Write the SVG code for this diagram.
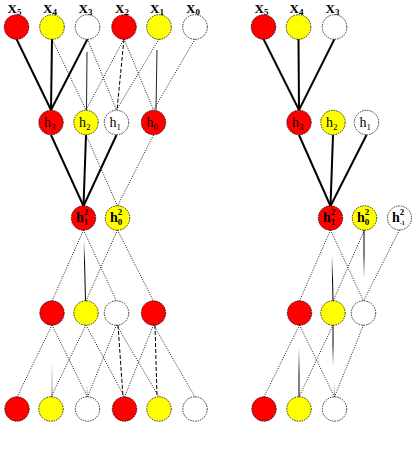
<svg xmlns="http://www.w3.org/2000/svg" width="412" height="456" viewBox="0 0 412 456">
<style>
  .n { stroke:#000; stroke-width:0.8; stroke-dasharray:1.5 1; }
  .r { fill:#ff0000; }
  .y { fill:#ffff00; }
  .w { fill:#ffffff; }
  .thick { stroke:#000; stroke-width:2; fill:none; }
  .dot { stroke:#000; stroke-width:0.9; stroke-dasharray:1 1.4; fill:none; }
  .dash { stroke:#000; stroke-width:1; stroke-dasharray:4 2; fill:none; }
  .thin { stroke:#222; stroke-width:1; fill:none; }
  .lx { font-family:"Liberation Serif","Times New Roman",serif; font-weight:bold; font-size:13px; fill:#000; }
  .lh { font-family:"Liberation Serif","Times New Roman",serif; font-size:14px; fill:#000; }
  .lh2 { font-family:"Liberation Serif","Times New Roman",serif; font-weight:bold; font-size:14px; fill:#000; }
  .sub { font-size:9px; }
</style>
<defs>
  <linearGradient id="g5" gradientUnits="userSpaceOnUse" x1="84" y1="240" x2="86" y2="262">
    <stop offset="0" stop-color="#fff"/><stop offset="1" stop-color="#000"/>
  </linearGradient>
  <linearGradient id="g6" gradientUnits="userSpaceOnUse" x1="52" y1="362" x2="52" y2="397">
    <stop offset="0" stop-color="#fff"/><stop offset="1" stop-color="#777"/>
  </linearGradient>
  <linearGradient id="g7" gradientUnits="userSpaceOnUse" x1="87" y1="384" x2="87" y2="397">
    <stop offset="0" stop-color="#fff"/><stop offset="1" stop-color="#888"/>
  </linearGradient>
  <linearGradient id="g10" gradientUnits="userSpaceOnUse" x1="332" y1="255" x2="332" y2="280">
    <stop offset="0" stop-color="#fff"/><stop offset="1" stop-color="#000"/>
  </linearGradient>
  <linearGradient id="g11" gradientUnits="userSpaceOnUse" x1="364" y1="255" x2="364" y2="278">
    <stop offset="0" stop-color="#000"/><stop offset="1" stop-color="#fff"/>
  </linearGradient>
  <linearGradient id="g12" gradientUnits="userSpaceOnUse" x1="299" y1="348" x2="299" y2="375">
    <stop offset="0" stop-color="#fff"/><stop offset="1" stop-color="#000"/>
  </linearGradient>
  <linearGradient id="g13" gradientUnits="userSpaceOnUse" x1="333" y1="345" x2="333" y2="366">
    <stop offset="0" stop-color="#000"/><stop offset="1" stop-color="#fff"/>
  </linearGradient>
  <linearGradient id="g14" gradientUnits="userSpaceOnUse" x1="334" y1="382" x2="334" y2="397">
    <stop offset="0" stop-color="#fff"/><stop offset="1" stop-color="#888"/>
  </linearGradient>
</defs>

<g id="connectors">
  <!-- left: inputs to hidden -->
  <line class="thick" x1="16.5" y1="39" x2="51" y2="110"/>
  <line class="thick" x1="52" y1="39" x2="51" y2="110"/>
  <line class="thick" x1="87.5" y1="39" x2="51" y2="110"/>
  <line class="dot" x1="52" y1="39" x2="86" y2="110"/>
  <line class="thin" x1="87" y1="52" x2="86.5" y2="110" stroke="#555"/>
  <line class="dot" x1="124" y1="39" x2="86" y2="110"/>
  <line class="dot" x1="87.5" y1="39" x2="116.5" y2="110"/>
  <line class="dash" x1="124" y1="39" x2="117" y2="110"/>
  <line class="dot" x1="159" y1="39" x2="116.5" y2="110"/>
  <line class="dot" x1="124" y1="39" x2="153.5" y2="110"/>
  <line class="thin" x1="157" y1="50" x2="156" y2="110"/>
  <line class="dot" x1="195" y1="39" x2="153.5" y2="110"/>
  <!-- left: hidden to layer 2 -->
  <line class="thick" x1="51" y1="135" x2="83.5" y2="206"/>
  <line class="thick" x1="86" y1="135" x2="83.5" y2="206"/>
  <line class="thick" x1="116.5" y1="135" x2="83.5" y2="206"/>
  <line class="dot" x1="86" y1="135" x2="117.5" y2="206"/>
  <line class="dot" x1="153.5" y1="135" x2="117.5" y2="206"/>
  <!-- left: layer 2 to layer 4 -->
  <line class="dot" x1="83.5" y1="230" x2="52" y2="301"/>
  <line x1="84" y1="240" x2="85.5" y2="301" stroke="url(#g5)" stroke-width="1"/>
  <line class="dot" x1="83.5" y1="230" x2="116.5" y2="301"/>
  <line class="dot" x1="117.5" y1="230" x2="86" y2="301"/>
  <line class="dot" x1="117.5" y1="230" x2="153.5" y2="301"/>
  <!-- left: layer 4 to outputs -->
  <line class="dot" x1="52" y1="325" x2="17" y2="397"/>
  <line x1="52" y1="362" x2="52" y2="397" stroke="url(#g6)" stroke-width="1"/>
  <line class="dot" x1="52" y1="325" x2="87.5" y2="397"/>
  <line class="dot" x1="86" y1="325" x2="51" y2="397"/>
  <line x1="87" y1="384" x2="87.3" y2="397" stroke="url(#g7)" stroke-width="1"/>
  <line class="dot" x1="86" y1="325" x2="124.5" y2="397"/>
  <line class="dot" x1="116.5" y1="325" x2="87.5" y2="397"/>
  <line class="dash" x1="118" y1="325" x2="123" y2="397"/>
  <line class="dot" x1="116.5" y1="325" x2="159" y2="397"/>
  <line class="dot" x1="153.5" y1="325" x2="124.5" y2="397"/>
  <line class="dash" x1="155" y1="325" x2="157" y2="397"/>
  <line class="dot" x1="153.5" y1="325" x2="195" y2="397"/>

  <!-- right: inputs to hidden -->
  <line class="thick" x1="263.5" y1="39" x2="299" y2="110"/>
  <line class="thick" x1="298.5" y1="39" x2="299" y2="110"/>
  <line class="thick" x1="334.5" y1="39" x2="299" y2="110"/>
  <!-- right: hidden to layer 2 -->
  <line class="thick" x1="299" y1="135" x2="330.5" y2="206"/>
  <line class="thick" x1="333" y1="135" x2="330.5" y2="206"/>
  <line class="thick" x1="366.5" y1="135" x2="330.5" y2="206"/>
  <!-- right: layer 2 to layer 4 -->
  <line class="dot" x1="330.5" y1="230" x2="299.5" y2="301"/>
  <line x1="332" y1="255" x2="333" y2="301" stroke="url(#g10)" stroke-width="1"/>
  <line class="dot" x1="330.5" y1="230" x2="363.5" y2="301"/>
  <line class="dot" x1="364.5" y1="230" x2="333" y2="301"/>
  <line x1="364" y1="230" x2="364" y2="278" stroke="url(#g11)" stroke-width="1"/>
  <line class="dot" x1="399.5" y1="230" x2="363.5" y2="301"/>
  <!-- right: layer 4 to outputs -->
  <line class="dot" x1="299.5" y1="325" x2="264" y2="397"/>
  <line x1="299" y1="348" x2="299" y2="397" stroke="url(#g12)" stroke-width="1"/>
  <line class="dot" x1="299.5" y1="325" x2="334.5" y2="397"/>
  <line class="dot" x1="333" y1="325" x2="299" y2="397"/>
  <line x1="333" y1="325" x2="333" y2="366" stroke="url(#g13)" stroke-width="1"/>
  <line x1="334" y1="382" x2="334.5" y2="397" stroke="url(#g14)" stroke-width="1"/>
  <line class="dot" x1="363.5" y1="325" x2="334.5" y2="397"/>
</g>

<!-- Left panel: input row -->
<g id="L-x5"><circle class="n r" cx="16.5" cy="27" r="12.3"/><text class="lx" x="7.5" y="12.5">X<tspan class="sub" dy="2.5">5</tspan></text></g>
<g id="L-x4"><circle class="n y" cx="52" cy="27" r="12.3"/><text class="lx" x="43" y="12.5">X<tspan class="sub" dy="2.5">4</tspan></text></g>
<g id="L-x3"><circle class="n w" cx="87.5" cy="27" r="12.3"/><text class="lx" x="78.5" y="12.5">X<tspan class="sub" dy="2.5">3</tspan></text></g>
<g id="L-x2"><circle class="n r" cx="124" cy="27" r="12.3"/><text class="lx" x="115" y="12.5">X<tspan class="sub" dy="2.5">2</tspan></text></g>
<g id="L-x1"><circle class="n y" cx="159" cy="27" r="12.3"/><text class="lx" x="150" y="12.5">X<tspan class="sub" dy="2.5">1</tspan></text></g>
<g id="L-x0"><circle class="n w" cx="195" cy="27" r="12.3"/><text class="lx" x="186" y="12.5">X<tspan class="sub" dy="2.5">0</tspan></text></g>

<!-- Left panel: hidden layer 1 -->
<g id="L-h3"><circle class="n r" cx="51" cy="122.5" r="12.2"/><text class="lh" x="44" y="127">h<tspan class="sub" dy="3">3</tspan></text></g>
<g id="L-h2"><circle class="n y" cx="86" cy="122.5" r="12.2"/><text class="lh" x="79" y="127">h<tspan class="sub" dy="3">2</tspan></text></g>
<g id="L-h1"><circle class="n w" cx="116.5" cy="122.5" r="12.2"/><text class="lh" x="109.5" y="127">h<tspan class="sub" dy="3">1</tspan></text></g>
<g id="L-h0"><circle class="n r" cx="153.5" cy="122.5" r="12.2"/><text class="lh" x="146.5" y="127">h<tspan class="sub" dy="3">0</tspan></text></g>

<!-- Left panel: layer 2 -->
<g id="L-h2_1"><circle class="n r" cx="83.5" cy="218" r="12.2"/><text class="lh2" x="76" y="222">h<tspan class="sub" dy="-7">2</tspan><tspan class="sub" dx="-4.5" dy="9.5">1</tspan></text></g>
<g id="L-h2_0"><circle class="n y" cx="117.5" cy="218" r="12.2"/><text class="lh2" x="110" y="222">h<tspan class="sub" dy="-7">2</tspan><tspan class="sub" dx="-4.5" dy="9.5">0</tspan></text></g>

<!-- Left panel: layer 4 -->
<g id="L-d3"><circle class="n r" cx="52" cy="313" r="12.2"/></g>
<g id="L-d2"><circle class="n y" cx="86" cy="313" r="12.2"/></g>
<g id="L-d1"><circle class="n w" cx="116.5" cy="313" r="12.2"/></g>
<g id="L-d0"><circle class="n r" cx="153.5" cy="313" r="12.2"/></g>

<!-- Left panel: output row -->
<g id="L-o5"><circle class="n r" cx="17" cy="409" r="12.2"/></g>
<g id="L-o4"><circle class="n y" cx="51" cy="409" r="12.2"/></g>
<g id="L-o3"><circle class="n w" cx="87.5" cy="409" r="12.2"/></g>
<g id="L-o2"><circle class="n r" cx="124.5" cy="409" r="12.2"/></g>
<g id="L-o1"><circle class="n y" cx="159" cy="409" r="12.2"/></g>
<g id="L-o0"><circle class="n w" cx="195" cy="409" r="12.2"/></g>

<!-- Right panel: input row -->
<g id="R-x5"><circle class="n r" cx="263.5" cy="27" r="12.3"/><text class="lx" x="254.5" y="12.5">X<tspan class="sub" dy="2.5">5</tspan></text></g>
<g id="R-x4"><circle class="n y" cx="298.5" cy="27" r="12.3"/><text class="lx" x="289.5" y="12.5">X<tspan class="sub" dy="2.5">4</tspan></text></g>
<g id="R-x3"><circle class="n w" cx="334.5" cy="27" r="12.3"/><text class="lx" x="325.5" y="12.5">X<tspan class="sub" dy="2.5">3</tspan></text></g>

<!-- Right panel: hidden layer 1 -->
<g id="R-h3"><circle class="n r" cx="299" cy="122.5" r="12.2"/><text class="lh" x="292" y="127">h<tspan class="sub" dy="3">3</tspan></text></g>
<g id="R-h2"><circle class="n y" cx="333" cy="122.5" r="12.2"/><text class="lh" x="326" y="127">h<tspan class="sub" dy="3">2</tspan></text></g>
<g id="R-h1"><circle class="n w" cx="366.5" cy="122.5" r="12.2"/><text class="lh" x="359.5" y="127">h<tspan class="sub" dy="3">1</tspan></text></g>

<!-- Right panel: layer 2 -->
<g id="R-h2_1"><circle class="n r" cx="330.5" cy="218" r="12.2"/><text class="lh2" x="323" y="222">h<tspan class="sub" dy="-7">2</tspan><tspan class="sub" dx="-4.5" dy="9.5">1</tspan></text></g>
<g id="R-h2_0"><circle class="n y" cx="364.5" cy="218" r="12.2"/><text class="lh2" x="357" y="222">h<tspan class="sub" dy="-7">2</tspan><tspan class="sub" dx="-4.5" dy="9.5">0</tspan></text></g>
<g id="R-h2_m1"><circle class="n w" cx="399.5" cy="218" r="12"/><text class="lh2" x="392" y="222">h<tspan class="sub" dy="-7">2</tspan><tspan font-size="6px" dx="-4.5" dy="9.5">-1</tspan></text></g>

<!-- Right panel: layer 4 -->
<g id="R-d3"><circle class="n r" cx="299.5" cy="313" r="12.2"/></g>
<g id="R-d2"><circle class="n y" cx="333" cy="313" r="12.2"/></g>
<g id="R-d1"><circle class="n w" cx="363.5" cy="313" r="12.2"/></g>

<!-- Right panel: output row -->
<g id="R-o5"><circle class="n r" cx="264" cy="409" r="12.2"/></g>
<g id="R-o4"><circle class="n y" cx="299" cy="409" r="12.2"/></g>
<g id="R-o3"><circle class="n w" cx="334.5" cy="409" r="12.2"/></g>
</svg>
